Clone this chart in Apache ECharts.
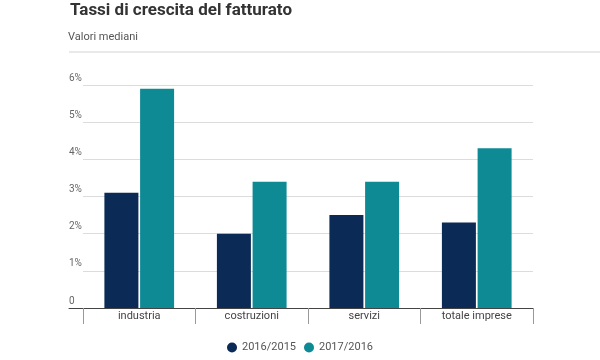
<!DOCTYPE html>
<html><head><meta charset="utf-8">
<script src="https://cdn.jsdelivr.net/npm/echarts@6/dist/echarts.min.js"></script>
<style>html,body{margin:0;padding:0;background:#fff}#c{width:600px;height:360px}</style>
</head><body><div id="c"></div>
<script>
var categories = ['industria', 'costruzioni', 'servizi', 'totale imprese'];
var series2016 = [3.1, 2.0, 2.5, 2.3];
var series2017 = [5.9, 3.4, 3.4, 4.3];
var seriesNames = ['2016/2015', '2017/2016'];
var yTicks = [0, 1, 2, 3, 4, 5, 6];

var chart = echarts.init(document.getElementById('c'));
var font = 'Roboto, "Noto Sans", sans-serif';
chart.setOption({
  animation: false,
  textStyle: {fontFamily: font},
  title: [
    {text: 'Tassi di crescita del fatturato', left: 70, top: 2, padding: 0,
     textStyle: {fontSize: 17, fontWeight: 'bold', color: '#333', fontFamily: font}},
    {text: 'Valori mediani', left: 68, top: 32, padding: 0,
     textStyle: {fontSize: 11, fontWeight: 'normal', color: '#555', fontFamily: font}}
  ],
  graphic: [{type: 'rect', shape: {x: 69, y: 51, width: 531, height: 2}, style: {fill: '#e9e9e9'}}],
  legend: {
    data: seriesNames, left: 'center', top: 337, icon: 'circle',
    itemWidth: 10, itemHeight: 10, itemGap: 8,
    textStyle: {fontSize: 11, color: '#555', fontFamily: font}
  },
  grid: [
    {left: 83, right: 67, top: 85, bottom: 52},
    {left: 83, right: 67, top: 85, bottom: 52},
    {left: 69, right: 67, top: 85, bottom: 52}
  ],
  xAxis: [
    {type: 'category', gridIndex: 0, data: categories,
     axisLine: {show: false},
     axisTick: {show: true, length: 16, lineStyle: {color: '#999'}},
     axisLabel: {margin: 3, fontSize: 11, color: '#444', fontFamily: font}},
    {type: 'value', gridIndex: 1, show: false},
    {type: 'value', gridIndex: 2, min: 0, max: 1,
     axisLine: {show: true, lineStyle: {color: '#444', width: 1}},
     axisTick: {show: false}, axisLabel: {show: false}, splitLine: {show: false}}
  ],
  yAxis: [
    {type: 'value', gridIndex: 0, min: 0, max: 6, interval: 1, show: false},
    {type: 'value', gridIndex: 1, min: yTicks[0], max: yTicks[yTicks.length - 1], interval: 1,
     axisLine: {show: false}, axisTick: {show: false},
     splitLine: {lineStyle: {color: '#dcdcdc'}},
     axisLabel: {align: 'left', verticalAlign: 'bottom', margin: 14, padding: [0, 0, 2, 0],
       fontSize: 10, color: '#666', fontFamily: font,
       formatter: function (v) { return v === 0 ? '0' : v + '%'; }}},
    {type: 'value', gridIndex: 2, show: false}
  ],
  series: [
    {name: seriesNames[0], type: 'bar', xAxisIndex: 0, yAxisIndex: 0, data: series2016,
     barWidth: 34, barGap: '5%', itemStyle: {color: '#0b2a55'}},
    {name: seriesNames[1], type: 'bar', xAxisIndex: 0, yAxisIndex: 0, data: series2017,
     barWidth: 34, barGap: '5%', itemStyle: {color: '#0e8a95'}}
  ]
});
</script></body></html>
